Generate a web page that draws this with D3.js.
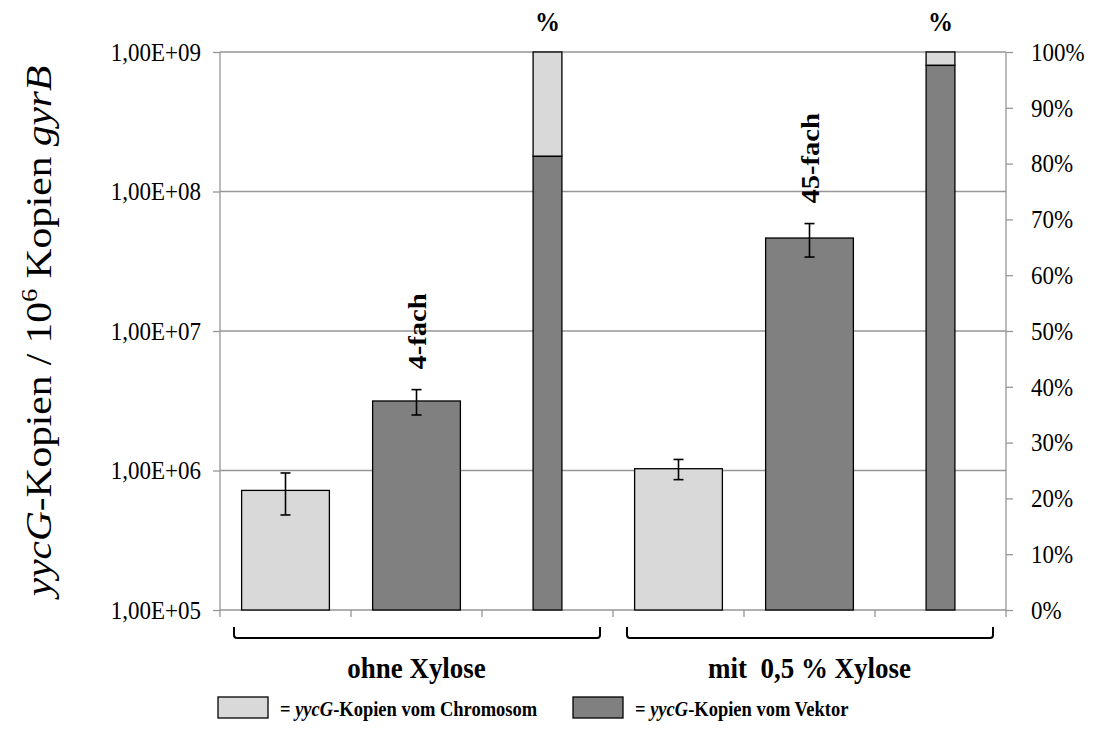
<!DOCTYPE html>
<html><head><meta charset="utf-8">
<script src="https://cdn.jsdelivr.net/npm/d3@7"></script>
<style>
html,body{margin:0;padding:0;background:#fff;}
svg{display:block;font-family:"Liberation Serif","Times New Roman",serif;}
</style></head>
<body>
<svg id="chart" width="1100" height="751"></svg>
<script>
// ---- data ----
const groups = ["ohne Xylose", "mit  0,5 % Xylose"];
const categories = ["ohne-chrom", "ohne-vektor", "ohne-pct", "mit-chrom", "mit-vektor", "mit-pct"];
const chromosomValues = [7.2e5, 1.03e6];
const chromosomErrors = [2.4e5, 1.7e5];
const vektorValues = [3.15e6, 4.64e7];
const vektorErrors = [0.65e6, 1.25e7];
const vektorPercent = [81.3, 97.6];
const foldLabels = ["4-fach", "45-fach"];
const logTicks = [1e5, 1e6, 1e7, 1e8, 1e9];
const logTickLabels = ["1,00E+05", "1,00E+06", "1,00E+07", "1,00E+08", "1,00E+09"];
const pctTicks = [0, 10, 20, 30, 40, 50, 60, 70, 80, 90, 100];
const legendLabels = ["Chromosom", "Vektor"];

const LIGHT = "#d9d9d9", DARK = "#808080", GRID = "#969696";
const STRETCH = 1.12; // text looks vertically stretched in the original

const svg = d3.select("#chart");
const L = 220, R = 1006, T = 52, B = 610;

const x = d3.scaleBand().domain(categories).range([L, R]).padding(0);
const yLog = d3.scaleLog().domain([1e5, 1e9]).range([B, T]);
const yPct = d3.scaleLinear().domain([0, 100]).range([B, T]);
const bw = x.bandwidth();
const wideW = bw * 0.67, narrowW = bw * 0.22;

// gridlines
svg.append("g").selectAll("line").data(logTicks.slice(1)).join("line")
  .attr("x1", L).attr("x2", R).attr("y1", d => yLog(d)).attr("y2", d => yLog(d))
  .attr("stroke", GRID).attr("stroke-width", 1.3);

// left axis
const leftAxis = d3.axisLeft(yLog).tickValues(logTicks).tickFormat((d, i) => logTickLabels[i]).tickSize(7).tickPadding(12);
const gl = svg.append("g").attr("transform", `translate(${L},0)`).call(leftAxis);
gl.select(".domain").attr("stroke", GRID).attr("stroke-width", 1.3).attr("d", `M0,${T}V${B}`);
gl.selectAll(".tick line").attr("stroke", GRID).attr("stroke-width", 1.3);
gl.selectAll(".tick text").attr("font-family", "Liberation Serif").attr("font-size", 23).attr("fill", "#000")
  .attr("transform", `scale(1,${STRETCH})`);

// right axis
const rightAxis = d3.axisRight(yPct).tickValues(pctTicks).tickFormat(d => d + "%").tickSize(7).tickPadding(18);
const gr = svg.append("g").attr("transform", `translate(${R},0)`).call(rightAxis);
gr.select(".domain").attr("stroke", GRID).attr("stroke-width", 1.3).attr("d", `M0,${T}V${B}`);
gr.selectAll(".tick line").attr("stroke", GRID).attr("stroke-width", 1.3);
gr.selectAll(".tick text").attr("font-family", "Liberation Serif").attr("font-size", 23).attr("fill", "#000")
  .attr("transform", `scale(1,${STRETCH})`);

// bottom axis
const bounds = categories.map(c => x(c)).concat([R]);
const gb = svg.append("g");
gb.append("line").attr("x1", L).attr("x2", R).attr("y1", B).attr("y2", B).attr("stroke", GRID).attr("stroke-width", 1.3);
gb.selectAll("line.t").data(bounds).join("line").attr("class", "t")
  .attr("x1", d => d).attr("x2", d => d).attr("y1", B).attr("y2", B + 7)
  .attr("stroke", GRID).attr("stroke-width", 1.3);

// bars
const barData = [];
groups.forEach((g, i) => {
  barData.push({cat: categories[i * 3], v: chromosomValues[i], e: chromosomErrors[i], fill: LIGHT});
  barData.push({cat: categories[i * 3 + 1], v: vektorValues[i], e: vektorErrors[i], fill: DARK, fold: foldLabels[i]});
});
const cx = c => x(c) + bw / 2;

svg.append("g").selectAll("rect").data(barData).join("rect")
  .attr("x", d => cx(d.cat) - wideW / 2).attr("width", wideW)
  .attr("y", d => yLog(d.v)).attr("height", d => B - yLog(d.v))
  .attr("fill", d => d.fill).attr("stroke", "#000").attr("stroke-width", 1.3);

// error bars
const eg = svg.append("g").attr("stroke", "#000").attr("stroke-width", 1.6);
barData.forEach(d => {
  const X = cx(d.cat), y1 = yLog(d.v + d.e), y2 = yLog(d.v - d.e);
  eg.append("line").attr("x1", X).attr("x2", X).attr("y1", y1).attr("y2", y2);
  eg.append("line").attr("x1", X - 5).attr("x2", X + 5).attr("y1", y1).attr("y2", y1);
  eg.append("line").attr("x1", X - 5).attr("x2", X + 5).attr("y1", y2).attr("y2", y2);
});

// fold labels
barData.filter(d => d.fold).forEach(d => {
  const X = cx(d.cat) + 9, Y = yLog(d.v + d.e) - 20;
  svg.append("text").attr("transform", `translate(${X},${Y}) scale(1,1.1) rotate(-90)`)
    .attr("font-weight", "bold").attr("font-size", 26).attr("text-anchor", "start")
    .text(d.fold);
});

// percent stacked bars
groups.forEach((g, i) => {
  const c = categories[i * 3 + 2];
  const X = cx(c) - narrowW / 2;
  svg.append("rect").attr("x", X).attr("width", narrowW)
    .attr("y", yPct(100)).attr("height", yPct(vektorPercent[i]) - yPct(100))
    .attr("fill", LIGHT).attr("stroke", "#000").attr("stroke-width", 1.3);
  svg.append("rect").attr("x", X).attr("width", narrowW)
    .attr("y", yPct(vektorPercent[i])).attr("height", B - yPct(vektorPercent[i]))
    .attr("fill", DARK).attr("stroke", "#000").attr("stroke-width", 1.3);
  svg.append("text").attr("transform", `translate(${cx(c)},31) scale(1,${STRETCH})`).attr("text-anchor", "middle")
    .attr("font-weight", "bold").attr("font-size", 25).text("%");
});

// brackets + group labels
groups.forEach((g, i) => {
  const x0 = x(categories[i * 3]) + 14, x1 = x(categories[i * 3 + 2]) + bw - 13;
  const y0 = 627, y1 = 638, r = 3;
  svg.append("path")
    .attr("d", `M${x0},${y0}V${y1 - r}Q${x0},${y1} ${x0 + r},${y1}H${x1 - r}Q${x1},${y1} ${x1},${y1 - r}V${y0}`)
    .attr("fill", "none").attr("stroke", "#000").attr("stroke-width", 2);
  const gx = (x(categories[i * 3]) + x(categories[i * 3 + 2]) + bw) / 2;
  svg.append("text").attr("transform", `translate(${gx},678) scale(1,${STRETCH})`)
    .attr("text-anchor", "middle").attr("font-weight", "bold").attr("font-size", 27)
    .style("white-space", "pre").text(g);
});

// y title
const yt = svg.append("text").attr("transform", `translate(51,331) scale(1,1.15) rotate(-90)`)
  .attr("text-anchor", "middle").attr("font-size", 36);
yt.append("tspan").attr("font-style", "italic").text("yycG");
yt.append("tspan").text("-Kopien / 10");
yt.append("tspan").attr("font-size", 23).attr("dy", -14).text("6");
yt.append("tspan").attr("dy", 14).text(" Kopien ");
yt.append("tspan").attr("font-style", "italic").text("gyrB");

// legend
const legendX = [218, 573];
const legendFill = [LIGHT, DARK];
legendLabels.forEach((lab, i) => {
  svg.append("rect").attr("x", legendX[i]).attr("y", 697).attr("width", 50).attr("height", 21)
    .attr("fill", legendFill[i]).attr("stroke", "#000").attr("stroke-width", 1.3);
  const t = svg.append("text").attr("transform", `translate(${legendX[i] + 62},716) scale(1,1.18)`)
    .attr("font-weight", "bold").attr("font-size", 18.5);
  t.append("tspan").text("= ");
  t.append("tspan").attr("font-style", "italic").text("yycG");
  t.append("tspan").text("-Kopien vom " + lab);
});
</script>
</body></html>
